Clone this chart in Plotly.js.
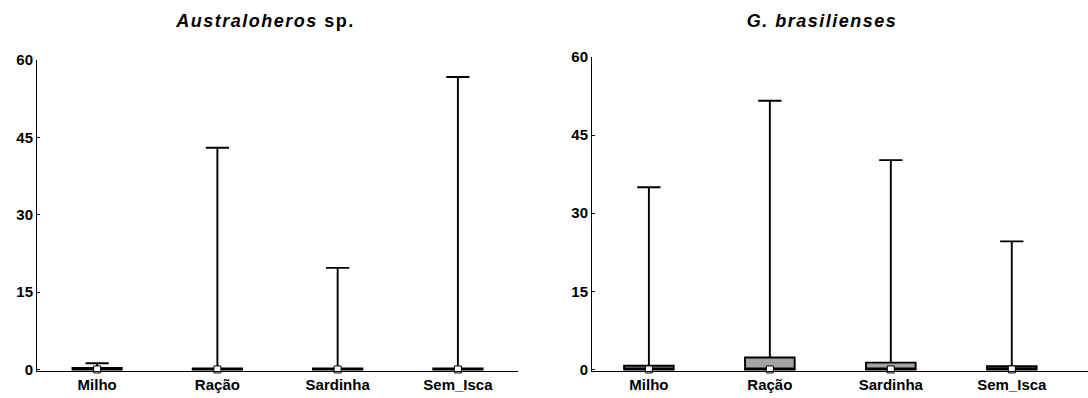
<!DOCTYPE html>
<html>
<head>
<meta charset="utf-8">
<script src="https://cdn.plot.ly/plotly-3.0.1.min.js"></script>
<style>
html,body{margin:0;padding:0;background:#fff;}
#chart{width:1088px;height:398px;}
</style>
</head>
<body>
<div id="chart"></div>
<script>
// ---- data ----
const categories = ['Milho', 'Ração', 'Sardinha', 'Sem_Isca'];
const tickValues = [0, 15, 30, 45, 60];

// Australoheros sp.
const ausMin    = [0, 0, 0, 0];
const ausQ1     = [0, 0, 0, 0];
const ausMedian = [0, 0, 0, 0];
const ausQ3     = [0.3, 0.2, 0.2, 0.2];
const ausMax    = [1.2, 43, 19.7, 56.7];

// G. brasilienses
const gbrMin    = [0, 0, 0, 0];
const gbrQ1     = [0, 0, 0, 0];
const gbrMedian = [0, 0, 0, 0];
const gbrQ3     = [0.7, 2.3, 1.3, 0.6];
const gbrMax    = [35, 51.6, 40.2, 24.6];

const FONT = 'Liberation Sans, Arial, sans-serif';

function boxTrace(q1, med, q3, lo, hi, xa, ya) {
  return {
    type: 'box', x: categories, q1: q1, median: med, q3: q3,
    lowerfence: lo, upperfence: hi,
    xaxis: xa, yaxis: ya,
    width: 0.41, whiskerwidth: 0.47,
    fillcolor: '#a4a4a4',
    line: {color: '#000', width: 1.9},
    boxpoints: false, hoverinfo: 'skip', showlegend: false
  };
}
function medTrace(med, xa, ya) {
  return {
    type: 'scatter', mode: 'markers', x: categories, y: med,
    xaxis: xa, yaxis: ya, cliponaxis: false,
    marker: {symbol: 'square', size: 7, color: '#fff', line: {color: '#000', width: 1}},
    hoverinfo: 'skip', showlegend: false
  };
}

const data = [
  boxTrace(ausQ1, ausMedian, ausQ3, ausMin, ausMax, 'x', 'y'),
  medTrace(ausMedian, 'x', 'y'),
  boxTrace(gbrQ1, gbrMedian, gbrQ3, gbrMin, gbrMax, 'x2', 'y2'),
  medTrace(gbrMedian, 'x2', 'y2')
];

const xCommon = {
  type: 'category', showgrid: false, zeroline: false,
  showline: true, linecolor: '#000', linewidth: 1, ticks: '',
  tickfont: {family: FONT, size: 15, color: '#000', weight: 'bold'},
  fixedrange: true
};
const yCommon = {
  range: [-0.3, 60], tickvals: tickValues, showgrid: false, zeroline: false,
  showline: true, linecolor: '#000', linewidth: 1,
  ticks: 'inside', ticklen: 3, tickcolor: '#000',
  tickfont: {family: FONT, size: 15, color: '#000', weight: 'bold'},
  fixedrange: true
};

const layout = {
  width: 1088, height: 398,
  margin: {l: 37, r: 0, t: 57, b: 27},
  paper_bgcolor: '#fff', plot_bgcolor: '#fff',
  showlegend: false,
  xaxis: Object.assign({}, xCommon, {domain: [0, 0.4577], range: [-0.5, 3.5], anchor: 'y'}),
  yaxis: Object.assign({}, yCommon, {domain: [0, 0.9904], anchor: 'x'}),
  xaxis2: Object.assign({}, xCommon, {domain: [0.5281, 1], range: [-0.47, 3.63], anchor: 'y2'}),
  yaxis2: Object.assign({}, yCommon, {domain: [0, 1], anchor: 'x2'}),
  annotations: [
    {text: '<i>Australoheros</i> sp.', xref: 'paper', yref: 'paper',
     x: 0.2169, y: 1, yshift: 36, showarrow: false, xanchor: 'center', yanchor: 'middle',
     font: {family: FONT, size: 18, color: '#000', weight: 'bold'}},
    {text: '<i>G. brasilienses</i>', xref: 'paper', yref: 'paper',
     x: 0.747, y: 1, yshift: 36, showarrow: false, xanchor: 'center', yanchor: 'middle',
     font: {family: FONT, size: 18, color: '#000', weight: 'bold'}}
  ]
};

Plotly.newPlot('chart', data, layout, {staticPlot: true, displayModeBar: false}).then(function () {
  document.querySelectorAll('.annotation-text').forEach(function (el) {
    el.style.letterSpacing = '1.5px';
  });
});
</script>
</body>
</html>
